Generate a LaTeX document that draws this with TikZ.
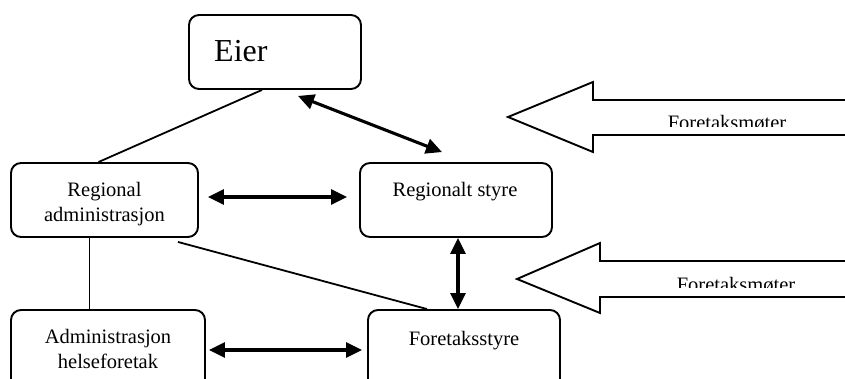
\documentclass[tikz,border=0pt]{standalone}
\usepackage{fontspec}
\setmainfont{Liberation Serif}
\usetikzlibrary{arrows.meta}

\begin{document}
\begin{tikzpicture}[x=1pt, y=-1pt,
  box/.style={draw, line width=1.9pt, rounded corners=10pt, inner sep=0pt},
  lbl/.style={anchor=base, align=center, font=\fontsize{20.5}{25}\selectfont},
  dbl/.style={line width=3.1pt, {Triangle[length=16pt,width=15pt]}-{Triangle[length=16pt,width=15pt]}},
  plain/.style={line width=1.8pt},
  bigarrow/.style={draw, line width=1.9pt, fill=white, line join=miter}]
  \useasboundingbox (0,0) rectangle (845,379);
  \clip (0,0) rectangle (845,379);

  % boxes
  \node[box, minimum width=172pt, minimum height=74pt] (eier) at (275,52) {};
  \node[box, minimum width=187pt, minimum height=74pt] (regadm) at (104.5,200) {};
  \node[box, minimum width=192pt, minimum height=74pt] (regstyre) at (456,200) {};
  \node[box, minimum width=194pt, minimum height=80pt] (admhf) at (108,350) {};
  \node[box, minimum width=192pt, minimum height=80pt] (fstyre) at (464,350) {};

  % texts
  \node[anchor=base west, inner sep=0pt, font=\fontsize{32}{38}\selectfont] (eiertxt) at (214,62) {Eier};
  \node[lbl] (regadmtxt) at (104.5,222) {Regional\\administrasjon};
  \node[lbl] (regstyretxt) at (455,197) {Regionalt styre};
  \node[lbl] (admhftxt) at (108,368) {Administrasjon\\helseforetak};
  \node[lbl] (fstyretxt) at (464,345) {Foretaksstyre};

  % connectors
  \draw[plain] ([xshift=-13pt]eier.south) -- ([xshift=-6pt]regadm.north);
  \draw[dbl] ([shift={(23,6)}]eier.south) -- ([shift={(-14,-10)}]regstyre.north);
  \draw[dbl] ([shift={(9,-3)}]regadm.east) -- ([shift={(-12,-3)}]regstyre.west);
  \draw[plain] ([xshift=-15pt]regadm.south) -- ([xshift=-15pt]regadm.south |- admhf.north);
  \draw[plain] ([shift={(-21,4)}]regadm.south east) -- ([xshift=-37pt]fstyre.north);
  \draw[dbl] ([xshift=2pt]regstyre.south) -- ([xshift=2pt]regstyre.south |- fstyre.north);
  \draw[dbl] ([xshift=3pt]admhf.east) -- ([xshift=-5pt]fstyre.west);

  % foretaksmoter arrows
  \draw[bigarrow] (508,117) -- (593,82) -- (593,100) -- (860,100)
    -- (860,135) -- (593,135) -- (593,152) -- cycle;
  \draw[bigarrow] (517,279) -- (600,243) -- (600,261) -- (860,261)
    -- (860,297) -- (600,297) -- (600,313) -- cycle;
  \begin{scope}
    \clip (600,101) rectangle (845,127);
    \node[lbl] (fm1) at (727,130) {Foretaksmøter};
  \end{scope}
  \begin{scope}
    \clip (605,262) rectangle (845,287);
    \node[lbl] (fm2) at (736,291) {Foretaksmøter};
  \end{scope}
\end{tikzpicture}
\end{document}
